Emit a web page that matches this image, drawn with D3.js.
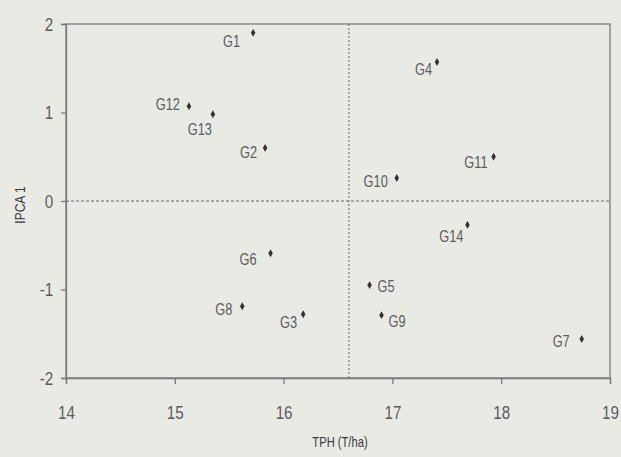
<!DOCTYPE html>
<html>
<head>
<meta charset="utf-8">
<script src="https://cdn.jsdelivr.net/npm/d3@7"></script>
<style>
  html, body { margin: 0; padding: 0; background: #eaeae5; }
</style>
</head>
<body>
<div id="chart"></div>
<script>
// genotype scores
const genotypes = ["G1", "G2", "G3", "G4", "G5", "G6", "G7", "G8", "G9", "G10", "G11", "G12", "G13", "G14"];
const tph = [15.72, 15.83, 16.18, 17.41, 16.79, 15.88, 18.74, 15.62, 16.90, 17.04, 17.93, 15.13, 15.35, 17.69];
const ipca1 = [1.90, 0.60, -1.28, 1.57, -0.95, -0.59, -1.56, -1.19, -1.29, 0.26, 0.50, 1.07, 0.98, -0.27];
const xTicks = [14, 15, 16, 17, 18, 19];
const yTicks = [2, 1, 0, -1, -2];
const meanTph = 16.6;

// label placement next to each point: [dx, dy, anchor]
const labelPos = {
  G1: [-13, 14, "end"], G2: [-8, 10, "end"], G3: [-6, 14, "end"], G4: [-5, 13, "end"],
  G5: [8, 7, "start"], G6: [-14, 12, "end"], G7: [-12, 8, "end"], G8: [-10, 9, "end"],
  G9: [7, 12, "start"], G10: [-9, 9, "end"], G11: [-6, 11, "end"], G12: [-9, 4, "end"],
  G13: [-1, 21, "end"], G14: [-4, 17, "end"]
};

const width = 621, height = 457;
const marginTop = 24, marginRight = 11, marginBottom = 79, marginLeft = 66;
const ink = "#5c5c5c";
const font = "'Liberation Sans', Arial, sans-serif";
const squeeze = 0.8; // the scan uses a condensed face

const svg = d3.select("#chart").append("svg")
  .attr("width", width)
  .attr("height", height)
  .attr("font-family", font)
  .style("display", "block");

const x = d3.scaleLinear().domain([14, 19]).range([marginLeft, width - marginRight]);
const y = d3.scaleLinear().domain([-2, 2]).range([height - marginBottom, marginTop]);

// frame
svg.append("rect")
  .attr("x", x(14)).attr("y", y(2))
  .attr("width", x(19) - x(14)).attr("height", y(-2) - y(2))
  .attr("fill", "none").attr("stroke", "#7a7a7a").attr("stroke-width", 1.3);

// reference lines
svg.append("line")
  .attr("x1", x(14)).attr("x2", x(19)).attr("y1", y(0)).attr("y2", y(0))
  .attr("stroke", "#666").attr("stroke-dasharray", "3,2").attr("stroke-width", 1);
svg.append("line")
  .attr("x1", x(meanTph)).attr("x2", x(meanTph)).attr("y1", y(2)).attr("y2", y(-2))
  .attr("stroke", "#666").attr("stroke-dasharray", "2,2").attr("stroke-width", 1);

// axes
const xAxis = svg.append("g")
  .attr("transform", `translate(0,${y(-2)})`)
  .call(d3.axisBottom(x).tickValues(xTicks).tickSize(6).tickPadding(22).tickFormat(d3.format("d")));
const yAxis = svg.append("g")
  .attr("transform", `translate(${x(14)},0)`)
  .call(d3.axisLeft(y).tickValues(yTicks).tickSize(5).tickPadding(11).tickFormat(d => d < 0 ? "-" + Math.abs(d) : d));
[xAxis, yAxis].forEach(g => {
  g.select(".domain").attr("stroke", "#7a7a7a").attr("stroke-width", 1.3);
  g.selectAll(".tick line").attr("stroke", "#7a7a7a").attr("stroke-width", 1.3);
  g.selectAll(".tick text")
    .attr("fill", ink)
    .attr("font-size", 19)
    .attr("transform", `scale(${squeeze},1)`);
});

// axis titles
svg.append("text")
  .attr("transform", `translate(340,447) scale(${squeeze},1)`)
  .attr("text-anchor", "middle")
  .attr("font-size", 14).attr("fill", "#3a3a3a")
  .text("TPH (T/ha)");
svg.append("text")
  .attr("transform", `translate(25,205) rotate(-90) scale(${squeeze},1)`)
  .attr("text-anchor", "middle")
  .attr("font-size", 15).attr("fill", "#3a3a3a")
  .text("IPCA 1");

// points
const pts = genotypes.map((g, i) => ({ g, x: tph[i], y: ipca1[i] }));
svg.append("g").selectAll("path")
  .data(pts)
  .join("path")
  .attr("transform", d => `translate(${x(d.x)},${y(d.y)})`)
  .attr("d", d3.symbol(d3.symbolDiamond, 18))
  .attr("fill", "#333");

svg.append("g").selectAll("text")
  .data(pts)
  .join("text")
  .attr("transform", d => `translate(${x(d.x) + labelPos[d.g][0]},${y(d.y) + labelPos[d.g][1]}) scale(${squeeze},1)`)
  .attr("text-anchor", d => labelPos[d.g][2])
  .attr("font-size", 16)
  .attr("fill", ink)
  .text(d => d.g);
</script>
</body>
</html>
